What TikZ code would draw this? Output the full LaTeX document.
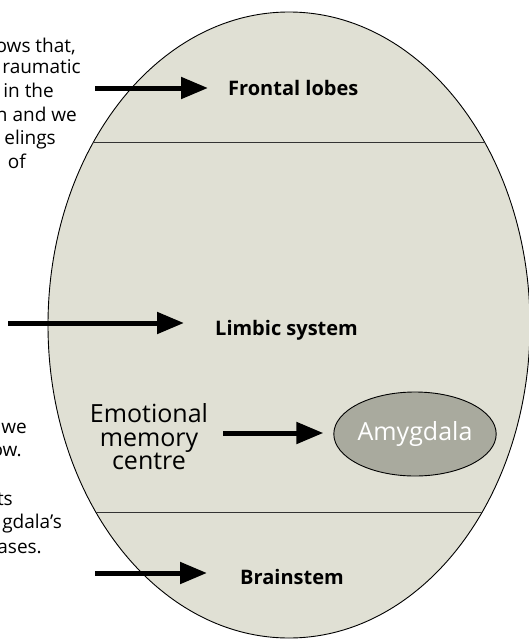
\documentclass[tikz,border=0pt]{standalone}
\usepackage{fontspec}
\setmainfont{Open Sans}
\usetikzlibrary{arrows.meta,shapes.geometric}
\definecolor{eggfill}{HTML}{E0E0D4}
\definecolor{amyfill}{HTML}{A9AA9E}
\tikzset{
  part/.style={font=\bfseries\fontsize{20}{24}\selectfont, anchor=base west, inner sep=0pt},
  side/.style={font=\fontsize{19}{23}\selectfont, anchor=base east, inner sep=0pt},
  bigarrow/.style={line width=5pt, -{Triangle[length=27pt,width=21pt]}},
  divider/.style={draw=black!80, line width=1pt}
}

\begin{document}
\begin{tikzpicture}[x=1pt,y=-1pt]
    \useasboundingbox (0,0) rectangle (529,640);
    % text beside the picture, cut off by the left edge
    \begin{scope}
      \clip (0,0) rectangle (529,640);
      \node[side] (t1) at (76,52)  {ows that,};
      \node[side] (t2) at (81,73)  {raumatic};
      \node[side] (t3) at (54,97)  {in the};
      \node[side] (t4) at (77,121) {n and we};
      \node[side] (t5) at (56,144) {elings};
      \node[side] (t6) at (26,168) {of};
      \node[side] (t7) at (27,433) {we};
      \node[side] (t8) at (22,456) {ow.};
      \node[side] (t9) at (13,505) {ts};
      \node[side] (t10) at (62,528) {gdala’s};
      \node[side] (t11) at (42,553) {ases.};
    \end{scope}
    % the brain as an egg, split in three layers
    \filldraw[fill=eggfill, draw=black, line width=0.9pt] (289,325) ellipse [x radius=241, y radius=313];
    \begin{scope}
      \clip (289,325) ellipse [x radius=241, y radius=313];
      \draw[divider] (0,142) -- (529,142);
      \draw[divider] (0,512) -- (529,512);
    \end{scope}
    \node[part] (frontal) at (228,95) {Frontal lobes};
    \node[part] (limbic) at (215,335) {Limbic system};
    \node[part] (brainstem) at (240,584) {Brainstem};
    \node[font=\fontsize{25}{23.5}\selectfont, align=center, inner sep=0pt] (emo) at (149,437)
      {Emotional\\memory\\centre};
    \node[ellipse, draw=black, line width=0.9pt, fill=amyfill, text=white, inner sep=0pt,
      minimum width=156pt, minimum height=84pt, font=\fontsize{25}{28}\selectfont] (amy) at (415,434) {Amygdala};
    % arrows
    \coordinate (f0) at (95,88);
    \coordinate (l0) at (8,323);
    \coordinate (e0) at (223,433);
    \coordinate (b0) at (95,573);
    \draw[bigarrow, shorten >=20pt] (f0) -- (f0 -| frontal.west);
    \draw[bigarrow, shorten >=31pt] (l0) -- (l0 -| limbic.west);
    \draw[bigarrow, shorten >=10pt] (e0) -- (e0 -| amy.west);
    \draw[bigarrow, shorten >=33pt] (b0) -- (b0 -| brainstem.west);
\end{tikzpicture}
\end{document}
